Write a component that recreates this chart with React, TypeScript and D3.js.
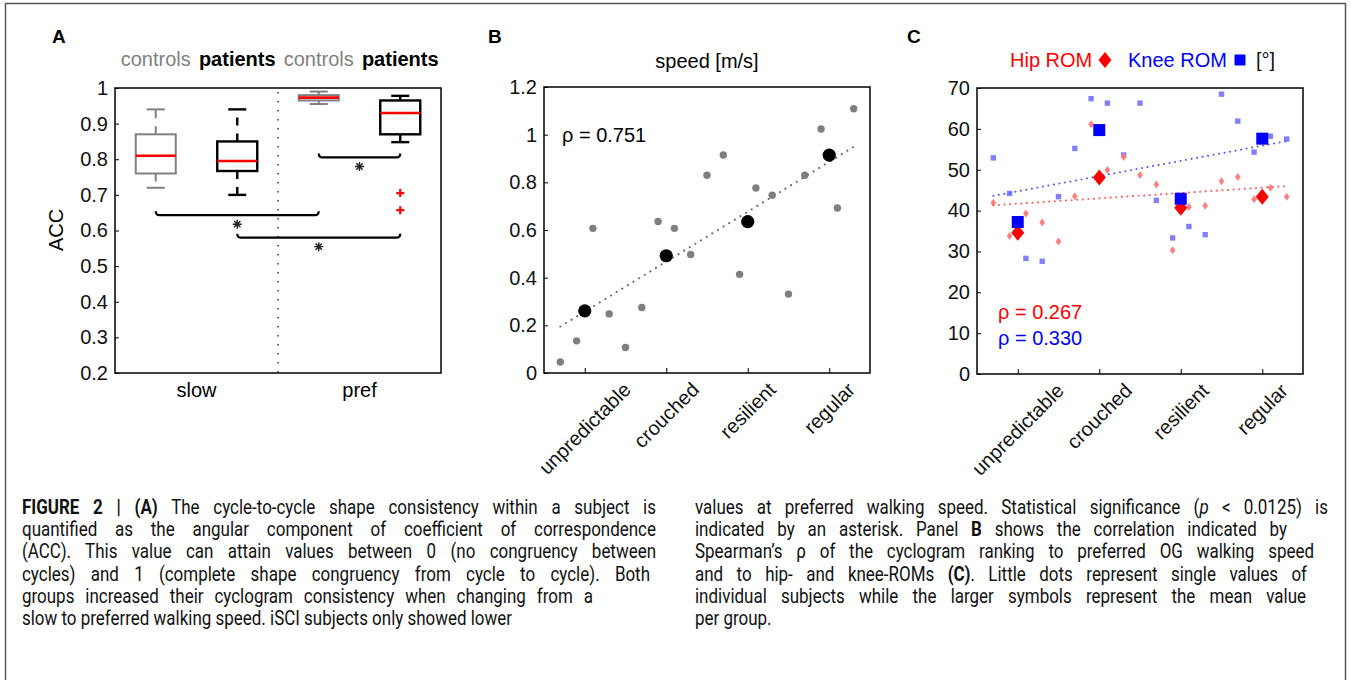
import * as d3 from "d3";
import { useEffect, useRef } from "react";
import * as React from "react";

// ---- panel A: ACC box plots (controls/patients at slow and preferred speed) ----
const groupNames = ["controls", "patients", "controls", "patients"];
const groupColors = ["#808080", "#000000", "#808080", "#000000"];
const speedNames = ["slow", "pref"];
const accMin = [0.72, 0.7, 0.955, 0.848];
const accQ1 = [0.76, 0.767, 0.965, 0.87];
const accMedian = [0.81, 0.795, 0.973, 0.93];
const accQ3 = [0.87, 0.85, 0.98, 0.965];
const accMax = [0.94, 0.94, 0.99, 0.978];
const outlierGroup = [3, 3];
const outlierValue = [0.705, 0.657];
const sigFrom = [2, 0, 1];
const sigTo = [3, 2, 3];
const sigLevel = [0.805, 0.643, 0.58];
const accTicks = [0.2, 0.3, 0.4, 0.5, 0.6, 0.7, 0.8, 0.9, 1];

// ---- panels B and C: single subjects per cyclogram group ----
const categories = ["unpredictable", "crouched", "resilient", "regular"];
const subjectPos = [0.7, 0.9, 1.1, 1.3, 1.5, 1.7, 1.9, 2.1, 2.3, 2.5, 2.7, 2.9, 3.1, 3.3, 3.5, 3.7, 3.9, 4.1, 4.3];
const speedValues = [0.046, 0.135, 0.607, 0.248, 0.107, 0.275, 0.636, 0.607, 0.497, 0.83, 0.915, 0.414, 0.776, 0.746, 0.331, 0.83, 1.024, 0.692, 1.109];
const speedMeans = [0.261, 0.492, 0.635, 0.914];
const speedFit = [0.195, 0.949];
const speedTicks = [0, 0.2, 0.4, 0.6, 0.8, 1, 1.2];

const hipValues = [41.9, 33.8, 39.3, 37.1, 32.4, 43.5, 61.1, 49.9, 53.1, 48.7, 46.4, 30.3, 40.9, 41.2, 47.2, 48.2, 42.8, 45.6, 43.4];
const kneeValues = [52.9, 44.2, 28.3, 27.6, 43.4, 55.2, 67.4, 66.3, 53.6, 66.3, 42.5, 33.3, 36.1, 34.1, 68.5, 61.9, 54.3, 58.2, 57.5];
const hipMeans = [34.6, 48.1, 40.7, 43.4];
const kneeMeans = [37.2, 59.7, 42.9, 57.6];
const hipFit = [41.3, 46.0];
const kneeFit = [43.6, 57.0];
const romTicks = [0, 10, 20, 30, 40, 50, 60, 70];

// ---- caption ----
type Seg = [string, string];
const captionLeft: Seg[][] = [
  [["FIGURE 2 | (A)", "b"], [" The cycle-to-cycle shape consistency within a subject is", ""]],
  [["quantified as the angular component of coefficient of correspondence", ""]],
  [["(ACC). This value can attain values between 0 (no congruency between", ""]],
  [["cycles) and 1 (complete shape congruency from cycle to cycle). Both", ""]],
  [["groups increased their cyclogram consistency when changing from a", ""]],
  [["slow to preferred walking speed. iSCI subjects only showed lower", ""]],
];
const captionLeftEnd = [656, 656, 656, 650, 593, 0];
const captionRight: Seg[][] = [
  [["values at preferred walking speed. Statistical significance (", ""], ["p", "i"], [" < 0.0125) is", ""]],
  [["indicated by an asterisk. Panel ", ""], ["B", "b"], [" shows the correlation indicated by", ""]],
  [["Spearman\u2019s \u03c1 of the cyclogram ranking to preferred OG walking speed", ""]],
  [["and to hip- and knee-ROMs ", ""], ["(C)", "b"], [". Little dots represent single values of", ""]],
  [["individual subjects while the larger symbols represent the mean value", ""]],
  [["per group.", ""]],
];
const captionRightEnd = [1328, 1287, 1314, 1307, 1306, 0];

const W = 1351;
const H = 680;
const FONT = "'Liberation Sans', Arial, sans-serif";

const App: React.FC = () => {
  const ref = useRef<SVGSVGElement>(null);

  useEffect(() => {
    document.body.style.margin = "0";
    const svg = d3.select(ref.current);
    svg.selectAll("*").remove();
    svg.attr("font-family", FONT);

    // outer frame of the figure
    svg.append("rect").attr("x", 5.5).attr("y", 3.5).attr("width", 1340).attr("height", 740)
      .attr("fill", "none").attr("stroke", "#555").attr("stroke-width", 1.5);

    const frame = (x0: number, y0: number, x1: number, y1: number) =>
      svg.append("rect").attr("x", x0).attr("y", y0).attr("width", x1 - x0).attr("height", y1 - y0)
        .attr("fill", "none").attr("stroke", "#000").attr("stroke-width", 1.5);

    const yAxis = (scale: d3.ScaleLinear<number, number>, ticks: number[], x0: number) => {
      const g = svg.append("g").attr("transform", `translate(${x0},0)`)
        .call(d3.axisLeft(scale).tickValues(ticks).tickSize(-4).tickPadding(7).tickFormat((d) => d3.format("~g")(d as number)));
      g.select(".domain").remove();
      g.selectAll("line").attr("stroke", "#000");
      g.selectAll("text").attr("font-size", 20).attr("font-family", FONT).attr("fill", "#111");
    };

    const panelLabel = (t: string, x: number) =>
      svg.append("text").text(t).attr("x", x).attr("y", 43).attr("font-size", 19).attr("font-weight", "bold");

    const asterisk = (cx: number, cy: number) => {
      const r = 4.5;
      const p = [0, 45, 90, 135].map((a) => {
        const dx = r * Math.cos((a * Math.PI) / 180);
        const dy = r * Math.sin((a * Math.PI) / 180);
        return `M${cx - dx},${cy - dy}L${cx + dx},${cy + dy}`;
      }).join("");
      svg.append("path").attr("d", p).attr("stroke", "#222").attr("stroke-width", 1.4);
    };

    // ================= Panel A =================
    panelLabel("A", 52);
    const xA = d3.scaleLinear().domain([0, 4]).range([115, 441]);
    const yA = d3.scaleLinear().domain([0.2, 1]).range([373, 88]);

    groupNames.forEach((n, i) => {
      svg.append("text").text(n).attr("x", xA(i + 0.5)).attr("y", 66).attr("text-anchor", "middle")
        .attr("font-size", 20).attr("fill", groupColors[i]).attr("font-weight", i % 2 ? "bold" : "normal");
    });
    speedNames.forEach((n, i) => {
      svg.append("text").text(n).attr("x", xA(2 * i + 1)).attr("y", 397).attr("text-anchor", "middle").attr("font-size", 20);
    });
    svg.append("text").text("ACC").attr("transform", `translate(63,230) rotate(-90)`)
      .attr("text-anchor", "middle").attr("font-size", 20);

    svg.append("line").attr("x1", xA(2)).attr("x2", xA(2)).attr("y1", yA(1) + 4).attr("y2", yA(0.2))
      .attr("stroke", "#444").attr("stroke-width", 1.6).attr("stroke-dasharray", "1.5,7.5");

    const bw = 20;
    const cap = 9;
    groupNames.forEach((_, i) => {
      const cx = xA(i + 0.5);
      const col = groupColors[i];
      const sw = i % 2 ? 2.4 : 2;
      const g = svg.append("g").attr("stroke", col).attr("stroke-width", sw).attr("fill", "none");
      g.append("line").attr("x1", cx).attr("x2", cx).attr("y1", yA(accQ3[i])).attr("y2", yA(accMax[i])).attr("stroke-dasharray", "8,8");
      g.append("line").attr("x1", cx).attr("x2", cx).attr("y1", yA(accQ1[i])).attr("y2", yA(accMin[i])).attr("stroke-dasharray", "8,8");
      g.append("line").attr("x1", cx - cap).attr("x2", cx + cap).attr("y1", yA(accMax[i])).attr("y2", yA(accMax[i]));
      g.append("line").attr("x1", cx - cap).attr("x2", cx + cap).attr("y1", yA(accMin[i])).attr("y2", yA(accMin[i]));
      g.append("rect").attr("x", cx - bw).attr("width", 2 * bw).attr("y", yA(accQ3[i]))
        .attr("height", yA(accQ1[i]) - yA(accQ3[i]));
      svg.append("line").attr("x1", cx - bw).attr("x2", cx + bw).attr("y1", yA(accMedian[i])).attr("y2", yA(accMedian[i]))
        .attr("stroke", "#ff0000").attr("stroke-width", 2.6);
    });
    outlierValue.forEach((v, k) => {
      const cx = xA(outlierGroup[k] + 0.5);
      const cy = yA(v);
      svg.append("path").attr("d", `M${cx - 4},${cy}H${cx + 4}M${cx},${cy - 4}V${cy + 4}`)
        .attr("stroke", "#ff0000").attr("stroke-width", 2.2);
    });
    sigLevel.forEach((lv, k) => {
      const x1 = xA(sigFrom[k] + 0.5);
      const x2 = xA(sigTo[k] + 0.5);
      const y = yA(lv);
      svg.append("path").attr("d", `M${x1},${y - 4}Q${x1},${y} ${x1 + 4},${y}H${x2 - 4}Q${x2},${y} ${x2},${y - 4}`)
        .attr("fill", "none").attr("stroke", "#000").attr("stroke-width", 2.2);
      asterisk((x1 + x2) / 2, y + 9);
    });

    yAxis(yA, accTicks, 115);
    frame(115, 88, 441, 373);

    // ================= shared category axis =================
    const catAxis = (x: d3.ScaleLinear<number, number>, y0: number) => {
      const g = svg.append("g").attr("transform", `translate(0,${y0})`)
        .call(d3.axisBottom(x).tickValues([1, 2, 3, 4]).tickSize(-5).tickFormat(() => ""));
      g.select(".domain").remove();
      g.selectAll("line").attr("stroke", "#000");
      categories.forEach((c, i) => {
        const t = svg.append("text").text(c).attr("font-size", 20).attr("text-anchor", "middle")
          .attr("dominant-baseline", "central").attr("fill", "#111");
        const L = (t.node() as SVGTextElement).getComputedTextLength();
        t.attr("transform", `translate(${x(i + 1)},${y0 + 13 + L * 0.3536}) rotate(-45)`);
      });
    };

    // ================= Panel B =================
    panelLabel("B", 488);
    const xB = d3.scaleLinear().domain([0.5, 4.5]).range([544, 870]);
    const yB = d3.scaleLinear().domain([0, 1.2]).range([373, 87]);
    const xExt = d3.extent(subjectPos) as [number, number];
    svg.append("text").text("speed [m/s]").attr("x", 707).attr("y", 68).attr("text-anchor", "middle").attr("font-size", 20);

    svg.append("line").attr("x1", xB(xExt[0])).attr("y1", yB(speedFit[0])).attr("x2", xB(xExt[1])).attr("y2", yB(speedFit[1]))
      .attr("stroke", "#666").attr("stroke-width", 2).attr("stroke-linecap", "round").attr("stroke-dasharray", "0.1,6.5");
    svg.append("g").selectAll("circle").data(speedValues).join("circle")
      .attr("cx", (_, i) => xB(subjectPos[i])).attr("cy", (d) => yB(d)).attr("r", 3.7).attr("fill", "#7f7f7f");
    svg.append("g").selectAll("circle").data(speedMeans).join("circle")
      .attr("cx", (_, i) => xB(i + 1)).attr("cy", (d) => yB(d)).attr("r", 6.6).attr("fill", "#000");
    svg.append("text").text("\u03c1 = 0.751").attr("x", 562).attr("y", 142).attr("font-size", 20);

    yAxis(yB, speedTicks, 544);
    catAxis(xB, 373);
    frame(544, 87, 870, 373);

    // ================= Panel C =================
    panelLabel("C", 907);
    const xC = d3.scaleLinear().domain([0.5, 4.5]).range([977, 1303]);
    const yC = d3.scaleLinear().domain([0, 70]).range([374, 88]);
    const diamond = (w: number, h: number) => `M0,${-h}L${w},0L0,${h}L${-w},0Z`;
    const square = (s: number) => `M${-s},${-s}H${s}V${s}H${-s}Z`;

    svg.append("g").selectAll("path").data(kneeValues).join("path")
      .attr("d", square(2.7)).attr("fill", "#8080ff")
      .attr("transform", (d, i) => `translate(${xC(subjectPos[i])},${yC(d)})`);
    svg.append("g").selectAll("path").data(hipValues).join("path")
      .attr("d", diamond(2.8, 4)).attr("fill", "#ff7f7f")
      .attr("transform", (d, i) => `translate(${xC(subjectPos[i])},${yC(d)})`);
    svg.append("line").attr("x1", xC(xExt[0])).attr("y1", yC(hipFit[0])).attr("x2", xC(xExt[1])).attr("y2", yC(hipFit[1]))
      .attr("stroke", "#ff5a5a").attr("stroke-width", 2).attr("stroke-linecap", "round").attr("stroke-dasharray", "0.1,5.5");
    svg.append("line").attr("x1", xC(xExt[0])).attr("y1", yC(kneeFit[0])).attr("x2", xC(xExt[1])).attr("y2", yC(kneeFit[1]))
      .attr("stroke", "#5a5aff").attr("stroke-width", 2).attr("stroke-linecap", "round").attr("stroke-dasharray", "0.1,5.5");
    svg.append("g").selectAll("path").data(hipMeans).join("path")
      .attr("d", diamond(6.5, 8)).attr("fill", "#ff0000")
      .attr("transform", (d, i) => `translate(${xC(i + 1)},${yC(d)})`);
    svg.append("g").selectAll("path").data(kneeMeans).join("path")
      .attr("d", square(6)).attr("fill", "#0000ff")
      .attr("transform", (d, i) => `translate(${xC(i + 1)},${yC(d)})`);

    svg.append("text").text("Hip ROM").attr("x", 1010).attr("y", 67).attr("font-size", 20).attr("fill", "#ff0000");
    svg.append("path").attr("d", diamond(6.5, 8)).attr("fill", "#ff0000").attr("transform", "translate(1105,60)");
    svg.append("text").text("Knee ROM").attr("x", 1128).attr("y", 67).attr("font-size", 20).attr("fill", "#0000ff");
    svg.append("path").attr("d", square(5.5)).attr("fill", "#0000ff").attr("transform", "translate(1240,60)");
    svg.append("text").text("[\u00b0]").attr("x", 1256).attr("y", 67).attr("font-size", 20).attr("fill", "#111");

    svg.append("text").text("\u03c1 = 0.267").attr("x", 998).attr("y", 319).attr("font-size", 20).attr("fill", "#ff0000");
    svg.append("text").text("\u03c1 = 0.330").attr("x", 998).attr("y", 345).attr("font-size", 20).attr("fill", "#0000ff");

    yAxis(yC, romTicks, 977);
    catAxis(xC, 374);
    frame(977, 88, 1303, 374);

    // ================= caption (condensed, justified lines) =================
    const squeeze = 0.87;
    const caption = (lines: Seg[][], ends: number[], x0: number) => {
      lines.forEach((segs, li) => {
        const t = svg.append("text").attr("x", 0).attr("y", 0)
          .attr("transform", `translate(${x0},${514 + li * 22.2}) scale(${squeeze},1)`)
          .attr("font-family", "Roboto, 'Liberation Sans', sans-serif").attr("font-size", 19.5).attr("fill", "#111");
        segs.forEach(([s, st]) => {
          const ts = t.append("tspan").text(s);
          if (st === "b") ts.attr("font-weight", "bold");
          if (st === "i") ts.attr("font-style", "italic");
        });
        if (!ends[li]) return;
        const target = (ends[li] - x0) / squeeze;
        const L = (t.node() as SVGTextElement).getComputedTextLength();
        const spaces = segs.map((s) => s[0]).join("").split(" ").length - 1;
        const extra = (target - L) / Math.max(spaces, 1);
        if (extra > 0) t.attr("word-spacing", extra);
        else t.attr("textLength", target).attr("lengthAdjust", "spacingAndGlyphs");
      });
    };
    caption(captionLeft, captionLeftEnd, 22);
    caption(captionRight, captionRightEnd, 695);

    return () => {
      svg.selectAll("*").remove();
    };
  }, []);

  return <svg ref={ref} width={W} height={H} style={{ display: "block", background: "#fff" }} />;
};

export default App;
